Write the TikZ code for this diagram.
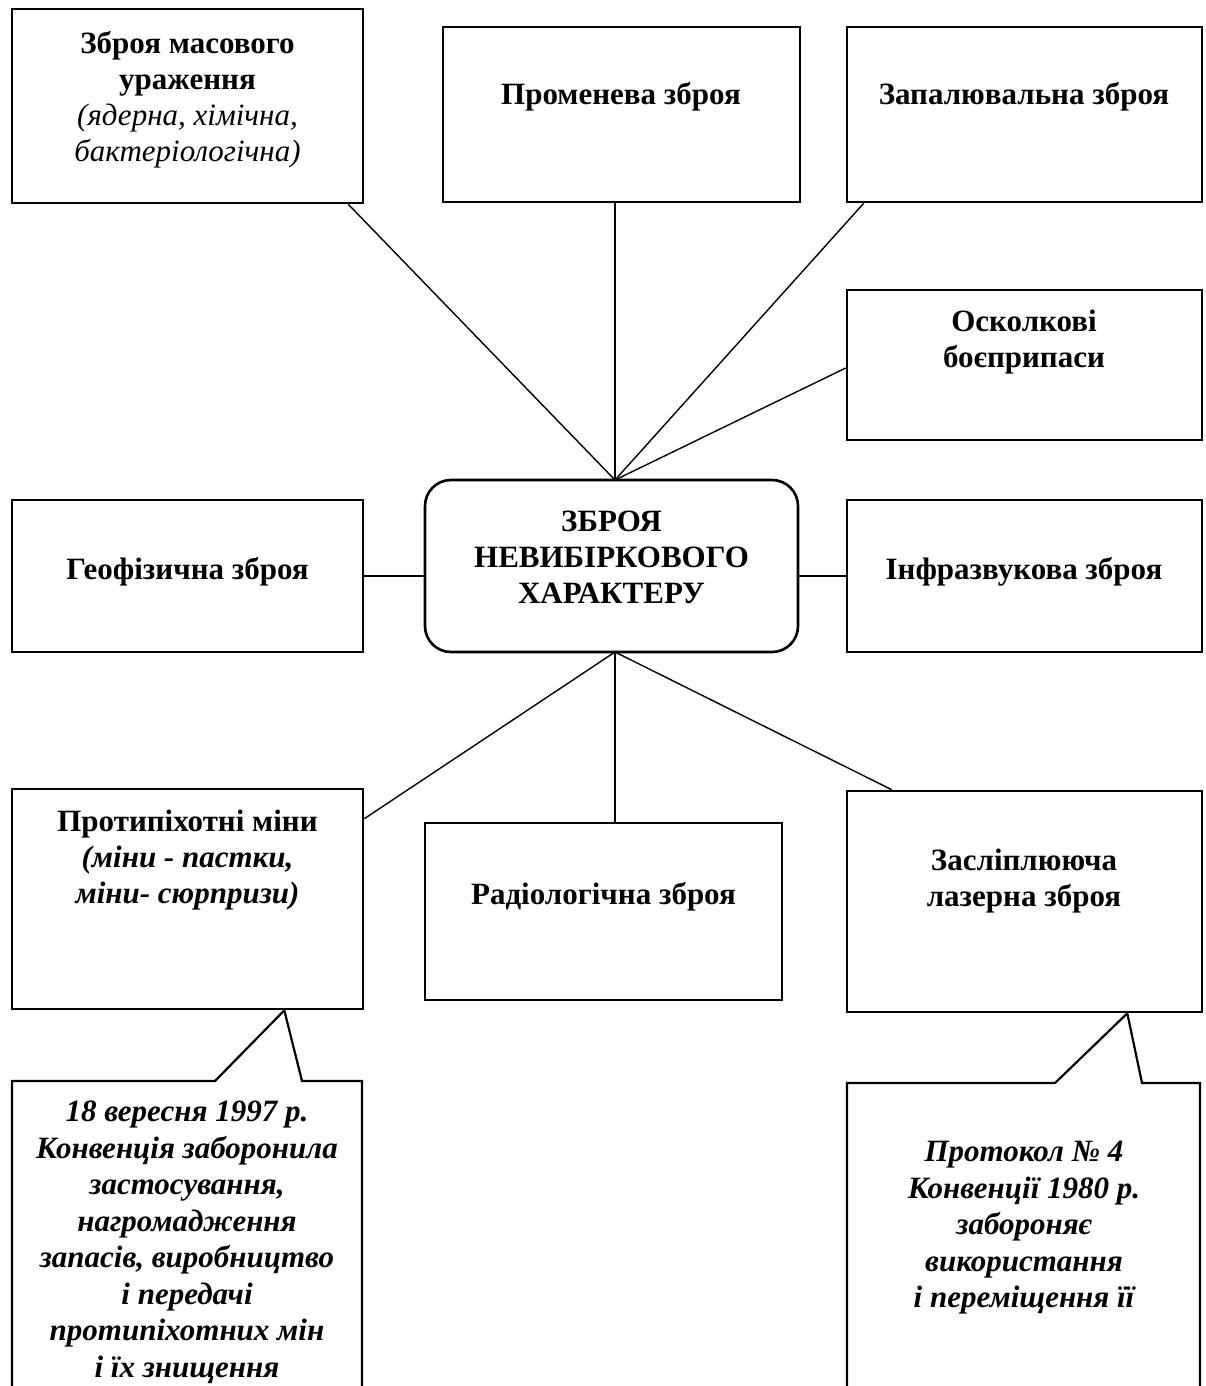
\documentclass[tikz,border=0pt]{standalone}
\usepackage{fontspec}
\setmainfont{Liberation Serif}
\begin{document}
\begin{tikzpicture}[x=1pt,y=-1pt,
  boxst/.style={draw, line width=2.6pt, inner sep=0pt, rectangle},
  hubst/.style={draw, line width=2.6pt, inner sep=0pt, rounded corners=26pt},
  txt/.style={inner sep=0pt, align=center, font=\fontsize{31}{36}\selectfont\bfseries},
  itxt/.style={inner sep=0pt, align=center, font=\fontsize{31}{36.5}\selectfont\bfseries\itshape},
  conn/.style={line width=1.4pt},
  callst/.style={line width=2.2pt, line join=miter}]
\useasboundingbox (0,0) rectangle (1206,1386);
% boxes
\node[boxst, minimum width=351pt, minimum height=194pt] (b1) at (187.5,106) {};
\node[boxst, minimum width=357pt, minimum height=175pt] (b2) at (621.5,114.5) {};
\node[boxst, minimum width=355pt, minimum height=175pt] (b3) at (1024.5,114.5) {};
\node[boxst, minimum width=355pt, minimum height=150pt] (b4) at (1024.5,365) {};
\node[hubst, minimum width=373pt, minimum height=172pt] (c) at (611.5,566) {};
\node[boxst, minimum width=351pt, minimum height=152pt] (b5) at (187.5,576) {};
\node[boxst, minimum width=355pt, minimum height=152pt] (b6) at (1024.5,576) {};
\node[boxst, minimum width=351pt, minimum height=220pt] (b7) at (187.5,899) {};
\node[boxst, minimum width=357pt, minimum height=177pt] (b8) at (603.5,911.5) {};
\node[boxst, minimum width=355pt, minimum height=221pt] (b9) at (1024.5,901.5) {};
% texts
\node[txt] (t1) at (187.5,100) {Зброя масового\\ураження\\\mdseries\itshape (ядерна, хімічна,\\\mdseries\itshape бактеріологічна)};
\node[txt] (t2) at (621,97) {Променева зброя};
\node[txt] (t3) at (1024,97) {Запалювальна зброя};
\node[txt] (t4) at (1024,342) {Осколкові\\боєприпаси};
\node[txt] (tc) at (611.5,557) {ЗБРОЯ\\НЕВИБІРКОВОГО\\ХАРАКТЕРУ};
\node[txt] (t5) at (187.5,572) {Геофізична зброя};
\node[txt] (t6) at (1024,572) {Інфразвукова зброя};
\node[txt] (t7) at (187.5,860) {Протипіхотні міни\\\itshape (міни - пастки,\\\itshape міни- сюрпризи)};
\node[txt] (t8) at (603.5,897) {Радіологічна зброя};
\node[txt] (t9) at (1024,881) {Засліплююча\\лазерна зброя};
% connectors
\coordinate (hubT) at (615,480);
\coordinate (hubB) at (615,652);
\draw[conn] ([xshift=-16pt]b1.south east) -- (hubT);
\draw[conn] (b2.south -| hubT) -- (hubT);
\draw[conn] ([xshift=18pt]b3.south west) -- (hubT);
\draw[conn] ([yshift=-3pt]b4.west) -- (hubT);
\draw[conn] (b5.east) -- (b5.east -| c.west);
\draw[conn] (b6.west) -- (b6.west -| c.east);
\draw[conn] (hubB) -- ([yshift=-31pt]b7.north east);
\draw[conn] (hubB) -- (hubB |- b8.north);
\draw[conn] (hubB) -- ([xshift=46pt]b9.north west);
% callouts
\coordinate (tipL) at ([xshift=-80pt]b7.south east);
\coordinate (tipR) at ([xshift=-76pt]b9.south east);
\draw[callst] (12,1392) |- (215,1081) -- (tipL) -- (302,1081) -| (362,1392);
\draw[callst] (847,1392) |- (1055,1083) -- (tipR) -- (1142,1083) -| (1200,1392);
\node[itxt, anchor=north] (nL) at (187,1101) {18 вересня 1997 р.\\Конвенція заборонила\\застосування,\\нагромадження\\запасів, виробництво\\і передачі\\протипіхотних мін\\і їх знищення};
\node[itxt] (nR) at (1024,1228) {Протокол № 4\\Конвенції 1980 р.\\забороняє\\використання\\і переміщення її};
\end{tikzpicture}
\end{document}
